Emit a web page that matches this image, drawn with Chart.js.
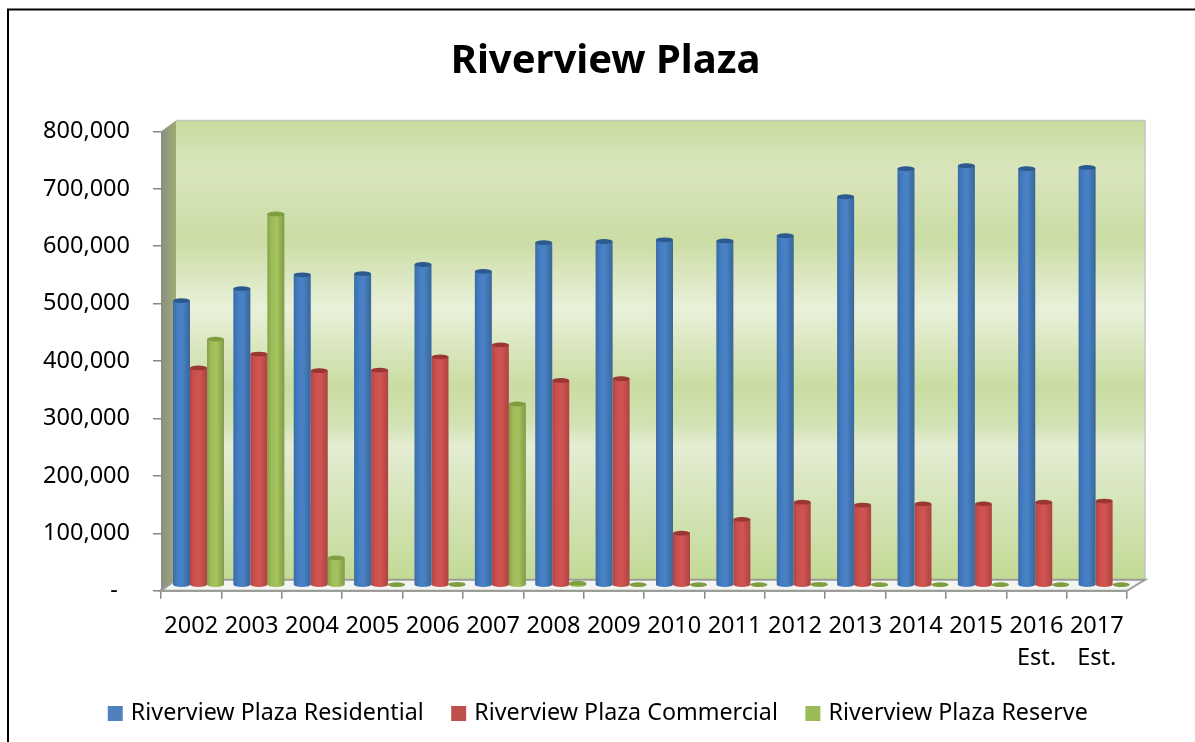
<!DOCTYPE html>
<html>
<head>
<meta charset="utf-8">
<title>Riverview Plaza</title>
<script src="https://cdn.jsdelivr.net/npm/chart.js@4"></script>
<style>
html, body { margin: 0; padding: 0; background: #fff; overflow: hidden; }
canvas { display: block; }
</style>
</head>
<body>
<canvas id="grafico" width="1195" height="742"></canvas>
<script>
const years = ['2002', '2003', '2004', '2005', '2006', '2007', '2008', '2009', '2010', '2011', '2012', '2013', '2014', '2015', ['2016', 'Est.'], ['2017', 'Est.']];
const residential = [500000, 521000, 545000, 547000, 563000, 551000, 601000, 603000, 606000, 604000, 613000, 681000, 730000, 735000, 730000, 732000];
const commercial = [383000, 407000, 378000, 379000, 402000, 423000, 361000, 364000, 95000, 119000, 149000, 144000, 146000, 146000, 149000, 151000];
const reserve = [433000, 651000, 52000, 1000, 6000, 320000, 8000, 5000, 4000, 5000, 6000, 4000, 2000, 2000, 2000, 1000];
const seriesNames = ['Riverview Plaza Residential', 'Riverview Plaza Commercial', 'Riverview Plaza Reserve'];
const legendColors = ['#4f81bd', '#c0504d', '#9bbb59'];
// edge, mid, highlight, edge, top
const barShades = {
    '#4f81bd': ['#3a6ba6', '#437cc2', '#4a82c6', '#386699', '#2c5a8f'],
    '#c0504d': ['#b04644', '#cc4f4d', '#d05552', '#ad4341', '#9a3633'],
    '#9bbb59': ['#84a14a', '#9dbd57', '#a5c35f', '#809c46', '#7f9e42']
};
const wallStops = [
    [0, '#c9dca0'], [0.11, '#d9e6bd'], [0.26, '#cbdca4'], [0.41, '#e9f1da'], [0.58, '#cadca2'],
    [0.66, '#d2e2b3'], [0.71, '#e4edd3'], [0.85, '#d3e3b5'], [1, '#c3da96']
];

// bars drawn as cylinders
Chart.BarElement.prototype.draw = function (ctx) {
    const shades = barShades[this.options.backgroundColor] || barShades['#4f81bd'];
    const w = this.width, x0 = this.x - w / 2, rx = w / 2, ry = 2.4;
    const base = this.base - ry;
    const top = Math.min(this.y, base);
    const grad = ctx.createLinearGradient(x0, 0, x0 + w, 0);
    grad.addColorStop(0, shades[0]);
    grad.addColorStop(0.25, shades[1]);
    grad.addColorStop(0.55, shades[2]);
    grad.addColorStop(1, shades[3]);
    ctx.save();
    ctx.fillStyle = grad;
    ctx.beginPath();
    ctx.moveTo(x0, top);
    ctx.lineTo(x0, base);
    ctx.ellipse(this.x, base, rx, ry, 0, Math.PI, 0, true);
    ctx.lineTo(x0 + w, top);
    ctx.closePath();
    ctx.fill();
    ctx.fillStyle = shades[4];
    ctx.beginPath();
    ctx.ellipse(this.x, top, rx, ry, 0, 0, Math.PI * 2);
    ctx.fill();
    ctx.restore();
};

const efecto3d = {
    id: 'efecto3d',
    afterLayout(chart) {
        // title and legend are centred on the whole chart, not the plot
        chart.titleBlock.left += 84;
        chart.legend.left += 72;
    },
    beforeDatasetsDraw(chart) {
        const { ctx, chartArea: a } = chart;
        const backL = a.left + 15, backR = a.right + 18, backT = a.top - 11, backB = a.bottom - 11;
        ctx.save();
        // back wall
        const wall = ctx.createLinearGradient(0, backT, 0, backB);
        wallStops.forEach(s => wall.addColorStop(s[0], s[1]));
        ctx.fillStyle = wall;
        ctx.fillRect(backL, backT, backR - backL, backB - backT);
        ctx.strokeStyle = '#c4c6c0';
        ctx.lineWidth = 1.5;
        ctx.beginPath();
        ctx.moveTo(backL, backT);
        ctx.lineTo(backR, backT);
        ctx.lineTo(backR, backB);
        ctx.stroke();
        // left wall
        const side = ctx.createLinearGradient(a.left, 0, backL, 0);
        side.addColorStop(0, '#8a8d84');
        side.addColorStop(1, '#9cae70');
        ctx.fillStyle = side;
        ctx.beginPath();
        ctx.moveTo(a.left, a.top);
        ctx.lineTo(backL, backT);
        ctx.lineTo(backL, backB);
        ctx.lineTo(a.left, a.bottom);
        ctx.closePath();
        ctx.fill();
        // floor
        ctx.fillStyle = '#f4f5f2';
        ctx.strokeStyle = '#9a9c98';
        ctx.lineWidth = 2;
        ctx.beginPath();
        ctx.moveTo(a.left, a.bottom);
        ctx.lineTo(backL, backB);
        ctx.lineTo(backR, backB);
        ctx.lineTo(a.right, a.bottom);
        ctx.closePath();
        ctx.fill();
        ctx.stroke();
        ctx.restore();
        // bars stand inside the floor
        ctx.save();
        ctx.translate(7.3, -3);
    },
    afterDatasetsDraw(chart) {
        chart.ctx.restore();
    },
    beforeDraw(chart) {
        const { ctx } = chart;
        ctx.save();
        ctx.strokeStyle = '#000';
        ctx.lineWidth = 2;
        ctx.beginPath();
        ctx.moveTo(8, 742);
        ctx.lineTo(8, 9.5);
        ctx.lineTo(1195, 9.5);
        ctx.stroke();
        ctx.restore();
    }
};

new Chart(document.getElementById('grafico'), {
    type: 'bar',
    data: {
        labels: years,
        datasets: [residential, commercial, reserve].map((values, i) => ({
            label: seriesNames[i],
            data: values,
            backgroundColor: legendColors[i],
            borderWidth: 0,
            clip: false,
            categoryPercentage: 0.845,
            barPercentage: 1
        }))
    },
    options: {
        responsive: false,
        animation: false,
        layout: { padding: { left: 0, right: 68, top: 0, bottom: 7 } },
        scales: {
            x: {
                afterFit: scale => { scale.height = 80; },
                border: { color: '#a3a5a1', width: 3 },
                grid: { drawOnChartArea: false, color: '#868686', lineWidth: 1.5, tickLength: 8 },
                ticks: {
                    autoSkip: false, maxRotation: 0, padding: 11, color: '#000',
                    font: { family: '"Noto Sans"', size: 23.5, lineHeight: 1.37 }
                }
            },
            y: {
                min: 0,
                max: 800000,
                afterFit: scale => { scale.width = 161; },
                border: { display: false },
                grid: { drawOnChartArea: false, color: '#868686', lineWidth: 1.5, tickLength: 8 },
                ticks: {
                    stepSize: 100000, padding: 23, color: '#000',
                    font: { family: '"Noto Sans"', size: 23.5 },
                    callback: v => v === 0 ? '-\u00a0\u00a0' : v.toLocaleString('en-US')
                }
            }
        },
        plugins: {
            title: {
                display: true,
                text: 'Riverview Plaza',
                color: '#000',
                font: { family: '"Noto Sans"', size: 40, weight: 'bold', lineHeight: 1.2 },
                padding: { top: 38, bottom: 45.4 }
            },
            legend: {
                position: 'bottom',
                labels: {
                    color: '#000',
                    font: { family: '"Noto Sans"', size: 23.25 },
                    usePointStyle: true,
                    pointStyle: 'rect',
                    boxWidth: 8,
                    boxHeight: 15,
                    padding: 31
                }
            },
            tooltip: { enabled: false }
        }
    },
    plugins: [efecto3d]
});
</script>
</body>
</html>
